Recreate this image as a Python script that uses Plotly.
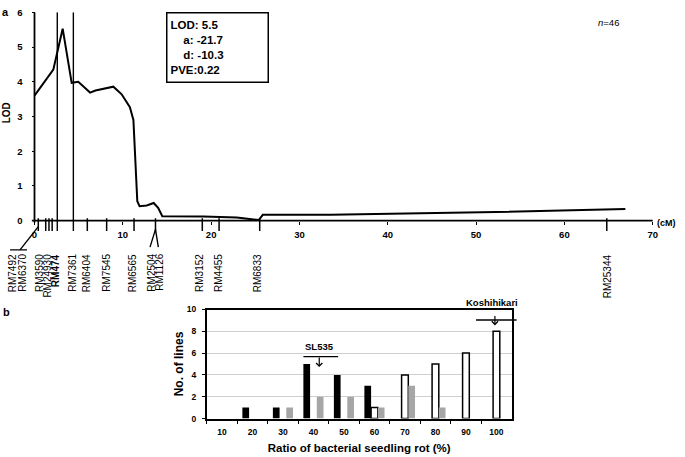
import plotly.graph_objects as go

# ---------------- Panel a data ----------------
lod_cm = [0, 1.0, 2.13, 3.19, 4.21, 4.96, 6.29, 6.9, 8.93, 9.87, 10.8, 11.2, 11.38,
          11.64, 11.9, 12.7, 13.5, 14.0, 14.47, 19.1, 22.9, 24.7, 25.4, 25.85, 33.5, 52.3, 66.9]
lod_val = [3.6, 3.97, 4.35, 5.53, 3.97, 4.0, 3.69, 3.75, 3.86, 3.64, 3.27, 2.9, 1.96,
           0.56, 0.42, 0.44, 0.51, 0.37, 0.13, 0.12, 0.09, 0.05, 0.02, 0.17, 0.17, 0.25, 0.34]

marker_tick_cm = [0.43, 1.27, 1.64, 2.0, 5.98, 8.17, 11.27, 13.7, 19.0, 20.9, 25.5, 64.8]
qtl_bounds_cm = [2.58, 4.4]
marker_names = ["RM7492", "RM6370", "RM3590", "RM24930", "RM474", "RM7361", "RM6404",
                "RM7545", "RM6565", "RM2504", "RM1126", "RM3152", "RM4455", "RM6833", "RM25344"]
marker_label_cm = [-2.40, -1.34, 0.62, 1.49, 2.40, 4.33, 5.98, 8.18, 11.19, 13.27, 14.13,
                   18.74, 20.89, 25.34, 64.98]
x_ticks_a = [0, 10, 20, 30, 40, 50, 60, 70]
y_ticks_a = [0, 1, 2, 3, 4, 5, 6]

# ---------------- Panel b data ----------------
bins = ["10", "20", "30", "40", "50", "60", "70", "80", "90", "100"]
black_counts = [0, 1, 1, 5, 4, 3, 0, 0, 0, 0]
white_counts = [0, 0, 0, 0, 0, 1, 4, 5, 6, 8]
gray_counts = [0, 0, 1, 2, 2, 1, 3, 1, 0, 0]
y_ticks_b = [0, 2, 4, 6, 8, 10]

W, H = 685, 457
FONT = "Liberation Sans, Arial, sans-serif"

def nz(v):
    return [c if c else None for c in v]

fig = go.Figure()

# LOD curve
fig.add_trace(go.Scatter(x=lod_cm, y=lod_val, mode="lines",
                         line=dict(color="black", width=2), xaxis="x", yaxis="y",
                         showlegend=False, hoverinfo="skip"))

# marker ticks below the axis
tx, ty = [], []
for c in marker_tick_cm:
    tx += [c, c, None]
    ty += [0.07, -0.3, None]
fig.add_trace(go.Scatter(x=tx, y=ty, mode="lines", line=dict(color="black", width=1.5),
                         xaxis="x", yaxis="y", showlegend=False, hoverinfo="skip"))
# QTL interval lines
qx, qy = [], []
for c in qtl_bounds_cm:
    qx += [c, c, None]
    qy += [-0.3, 6, None]
fig.add_trace(go.Scatter(x=qx, y=qy, mode="lines", line=dict(color="black", width=1.4),
                         xaxis="x", yaxis="y", showlegend=False, hoverinfo="skip"))
# connectors for shared ticks
fig.add_trace(go.Scatter(x=[marker_tick_cm[0], -1.64, None, -2.77, -0.85],
                         y=[-0.17, -0.84, None, -0.84, -0.84], mode="lines",
                         line=dict(color="black", width=1.4), xaxis="x", yaxis="y",
                         showlegend=False, hoverinfo="skip"))
fig.add_trace(go.Scatter(x=[13.08, marker_tick_cm[7], 14.02], y=[-0.76, -0.25, -0.76],
                         mode="lines", line=dict(color="black", width=1.4),
                         xaxis="x", yaxis="y", showlegend=False, hoverinfo="skip"))

# ---------------- Panel b bars ----------------
fig.add_trace(go.Bar(x=bins, y=nz(black_counts), marker=dict(color="black", line=dict(width=0)),
                     xaxis="x2", yaxis="y2", showlegend=False))
fig.add_trace(go.Bar(x=bins, y=nz(white_counts),
                     marker=dict(color="white", line=dict(color="black", width=1.5)),
                     xaxis="x2", yaxis="y2", showlegend=False))
fig.add_trace(go.Bar(x=bins, y=nz(gray_counts), marker=dict(color="#a6a6a6", line=dict(width=0)),
                     xaxis="x2", yaxis="y2", showlegend=False))

# ---------------- geometry ----------------
px0, px70 = 34.5, 652.7
ppc = (px70 - px0) / 70.0
xr = [-3.8, 70.6]
py0, py6 = 220.0, 6.5
ppl = (py0 - py6) / 6.0
yr = [-2.2, 6]

xa_dom = [(px0 + xr[0] * ppc) / W, (px0 + xr[1] * ppc) / W]
ya_dom = [1 - (py0 - yr[0] * ppl) / H, 1 - (py0 - yr[1] * ppl) / H]

fig.update_layout(
    width=W, height=H, autosize=False,
    margin=dict(l=0, r=0, t=0, b=0),
    paper_bgcolor="white", plot_bgcolor="white",
    font=dict(family=FONT, color="black"),
    barmode="group", bargap=0.34, bargroupgap=0,
    xaxis=dict(domain=xa_dom, range=xr, anchor="free", position=1 - py0 / H,
               showline=False, showgrid=False, zeroline=False,
               tickmode="array", tickvals=x_ticks_a, ticks="outside", ticklen=3,
               tickcolor="black", tickwidth=1.2, ticklabelstandoff=2,
               tickfont=dict(size=9.5, weight="bold", family=FONT)),
    yaxis=dict(domain=ya_dom, range=yr, anchor="free", position=px0 / W,
               showline=False, showgrid=False, zeroline=False,
               tickmode="array", tickvals=y_ticks_a, ticks="outside", ticklen=3,
               tickcolor="black", tickwidth=1.2, ticklabelstandoff=7,
               tickfont=dict(size=9.5, weight="bold", family=FONT)),
    xaxis2=dict(domain=[206.7 / W, 511.7 / W], anchor="y2", type="category",
                showline=True, mirror=True, linecolor="black", linewidth=1.5,
                showgrid=False, ticks="outside", tickson="boundaries", ticklen=4,
                tickcolor="black", tickwidth=1.2, ticklabelstandoff=5,
                tickfont=dict(size=8.5, weight="bold", family=FONT),
                title=dict(text="Ratio of bacterial seedling rot (%)", standoff=7,
                           font=dict(size=11.5, weight="bold", family=FONT))),
    yaxis2=dict(domain=[1 - 422.7 / H, 1 - 311.0 / H], anchor="x2", range=[0, 10],
                showline=True, mirror=True, linecolor="black", linewidth=1.5,
                showgrid=True, gridcolor="#cfcfcf", gridwidth=1, zeroline=False,
                tickmode="array", tickvals=y_ticks_b, ticks="outside", ticklen=3,
                tickcolor="black", tickwidth=1.2, ticklabelstandoff=4,
                tickfont=dict(size=8.5, weight="bold", family=FONT),
                title=dict(text="No. of lines", standoff=1,
                           font=dict(size=12, weight="bold", family=FONT))),
)

shapes = [
    dict(type="line", xref="x", yref="y", x0=-0.3, x1=70, y0=0, y1=0,
         line=dict(color="black", width=1.8)),
    dict(type="line", xref="x", yref="y", x0=0, x1=0, y0=-0.05, y1=6,
         line=dict(color="black", width=1.8)),
    # SL535 bar
    dict(type="line", xref="x2", yref="y2", x0=2.67, x1=3.81, y0=5.68, y1=5.68,
         line=dict(color="black", width=1.3)),
    # Koshihikari bar
    dict(type="line", xref="x2 domain", yref="y2", x0=(8.33 + 0.5) / 10, x1=(9.66 + 0.5) / 10,
         y0=9.04, y1=9.04, line=dict(color="black", width=1.3)),
]
fig.update_layout(shapes=shapes)

ann = []
for name, c in zip(marker_names, marker_label_cm):
    txt = "<b>%s</b>" % name if name == "RM474" else name
    ann.append(dict(x=c, y=-0.9, xref="x", yref="y", text=txt, textangle=-90,
                    showarrow=False, xanchor="center", yanchor="top",
                    font=dict(size=10, family=FONT)))

def P(x, y, text, size, bold=True, angle=0):
    return dict(x=x / W, y=1 - y / H, xref="paper", yref="paper", text=text,
                textangle=angle, showarrow=False, xanchor="center", yanchor="middle",
                font=dict(size=size, weight="bold" if bold else "normal", family=FONT))

ann += [
    dict(x=166 / W, y=1 - 6 / H, xref="paper", yref="paper", xanchor="left", yanchor="top",
         text="LOD: 5.5<br>\u00a0\u00a0\u00a0\u00a0a: -21.7<br>\u00a0\u00a0\u00a0\u00a0d: -10.3<br>PVE:0.22",
         align="left", valign="middle", showarrow=False, bordercolor="black", borderwidth=1.5,
         borderpad=3, width=94, height=62, bgcolor="white",
         font=dict(size=11.5, weight="bold", family=FONT)),
    P(608, 17, "<i>n</i>=46", 9.5, bold=False),
    P(666, 222, "(cM)", 9),
    P(6, 110, "LOD", 10, angle=-90),
    P(5, 6, "a", 11),
    P(6, 314, "b", 11),
    P(491.7, 304, "Koshihikari", 9.5),
    dict(x=3.19, y=6.6, xref="x2", yref="y2", text="SL535", showarrow=False,
         font=dict(size=9.5, weight="bold", family=FONT)),
    dict(x=3.19, y=4.72, xref="x2", yref="y2", text="", showarrow=True, ax=0, ay=-11,
         arrowhead=4, arrowsize=1, arrowwidth=1.2, arrowcolor="black"),
    dict(x=8.95, y=8.54, xref="x2", yref="y2", text="", showarrow=True, ax=0, ay=-11,
         arrowhead=4, arrowsize=1, arrowwidth=1.2, arrowcolor="black"),
]
fig.update_layout(annotations=ann)

fig.write_html("out.html", config={"displayModeBar": False},
               post_script="document.body.style.margin='0';")
